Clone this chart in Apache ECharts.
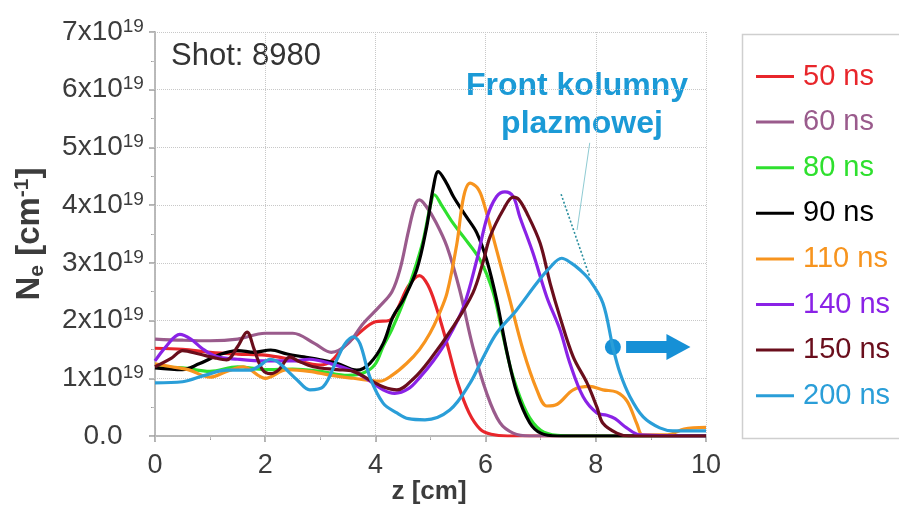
<!DOCTYPE html>
<html>
<head>
<meta charset="utf-8">
<script src="https://cdn.jsdelivr.net/npm/echarts@6/dist/echarts.min.js"></script>
<style>
html,body{margin:0;padding:0;background:#fff;}
#chart{width:899px;height:506px;}
</style>
</head>
<body>
<div id="chart"></div>
<script>
// ---- data (density in units of 1e19 cm^-1, z in cm) ----
const seriesNames = ['50 ns','60 ns','80 ns','90 ns','110 ns','140 ns','150 ns','200 ns'];

const z50 = [0,0.5,1,1.5,2,2.5,3.0,3.2,3.4,3.7,4.0,4.25,4.4,4.6,4.8,4.95,5.1,5.3,5.5,5.7,5.9,6.1,6.4,7,8,9,10];
const n50 = [1.52,1.5,1.45,1.42,1.4,1.32,1.23,1.3,1.52,1.78,1.98,2.0,2.2,2.6,2.78,2.62,2.25,1.6,0.9,0.4,0.12,0.03,0,0,0,0,0];

const z60 = [0,0.5,1,1.5,2,2.5,2.9,3.2,3.5,3.78,4.08,4.3,4.45,4.6,4.72,4.8,4.92,5.1,5.3,5.53,5.77,6.02,6.26,6.5,6.8,8,10];
const n60 = [1.68,1.66,1.65,1.68,1.78,1.78,1.6,1.45,1.6,1.95,2.25,2.5,2.9,3.55,4.0,4.09,3.98,3.7,3.28,2.53,1.54,0.74,0.23,0.05,0,0,0];

const z80 = [0,0.5,1,1.5,2,2.5,3,3.5,3.8,4.0,4.14,4.3,4.5,4.7,4.87,5.0,5.07,5.2,5.4,5.6,5.9,6.14,6.32,6.5,6.75,7.0,7.3,7.6,10];
const n80 = [1.2,1.18,1.12,1.2,1.15,1.16,1.12,1.05,1.1,1.25,1.55,1.85,2.3,2.85,3.4,4.0,4.18,4.0,3.7,3.45,3.05,2.48,1.72,1.02,0.4,0.1,0.01,0,0];

const z90 = [0,0.5,0.8,1.2,1.5,1.8,2.1,2.4,2.7,3.0,3.3,3.66,3.9,4.14,4.32,4.5,4.75,4.93,5.05,5.14,5.28,5.42,5.65,5.84,6.02,6.2,6.39,6.57,6.8,7.0,7.3,10];
const n90 = [1.18,1.15,1.25,1.42,1.48,1.45,1.49,1.42,1.37,1.32,1.26,1.14,1.26,1.6,2.07,2.35,2.88,3.62,4.3,4.58,4.4,4.14,3.8,3.52,3.05,2.36,1.44,0.74,0.23,0.05,0,0];

const z110 = [0,0.3,0.6,1.0,1.3,1.6,2.0,2.4,2.8,3.2,3.6,4.08,4.3,4.57,4.8,4.99,5.15,5.3,5.48,5.6,5.72,5.85,5.95,6.2,6.44,6.68,6.93,7.11,7.3,7.59,7.89,8.13,8.38,8.57,8.75,8.85,9.3,9.6,10];
const n110 = [1.25,1.2,1.15,1.02,1.12,1.2,1.0,1.15,1.12,1.05,1.0,0.95,1.05,1.26,1.5,1.78,2.1,2.48,3.34,4.14,4.38,4.3,4.09,3.22,2.36,1.49,0.8,0.52,0.55,0.8,0.86,0.8,0.76,0.6,0.2,0.02,0.02,0.12,0.15];

const z140 = [0,0.2,0.45,0.65,0.85,1.1,1.5,2,2.5,2.8,3.2,3.67,4.14,4.35,4.6,4.81,5.05,5.3,5.6,5.84,6.03,6.2,6.35,6.5,6.62,6.86,7.11,7.35,7.53,7.77,8.02,8.2,8.35,8.56,8.8,10];
const n140 = [1.3,1.55,1.76,1.68,1.52,1.38,1.33,1.3,1.3,1.33,1.25,1.09,0.8,0.74,0.82,1.02,1.3,1.66,2.24,3.05,3.8,4.15,4.23,4.15,3.8,3.17,2.41,1.84,1.26,0.68,0.4,0.36,0.3,0.14,0.02,0];

const z150 = [0,0.3,0.5,0.8,1.1,1.3,1.5,1.67,1.8,1.95,2.1,2.25,2.45,2.6,2.87,3.3,3.6,3.9,4.15,4.39,4.7,4.99,5.41,5.77,5.95,6.08,6.32,6.5,6.6,6.75,6.99,7.17,7.35,7.59,7.84,8.02,8.13,8.38,8.6,10];
const n150 = [1.2,1.35,1.48,1.42,1.35,1.32,1.55,1.8,1.5,1.15,1.08,1.15,1.37,1.3,1.2,1.15,1.12,0.97,0.85,0.8,1.0,1.32,1.89,2.48,3.0,3.45,3.92,4.14,4.1,3.86,3.34,2.65,2.06,1.37,0.92,0.5,0.22,0.05,0,0];

const z200 = [0,0.5,0.9,1.3,1.72,1.9,2.09,2.2,2.33,2.58,2.81,3.05,3.3,3.45,3.6,3.72,3.9,4.14,4.39,4.6,4.9,5.35,5.72,5.96,6.2,6.56,6.93,7.15,7.38,7.55,7.71,7.89,8.13,8.31,8.44,8.62,8.86,9.16,9.4,10];
const n200 = [0.92,0.94,1.05,1.14,1.14,1.22,1.33,1.3,1.2,0.97,0.8,0.85,1.32,1.6,1.72,1.6,1.02,0.57,0.4,0.3,0.28,0.45,0.92,1.37,1.78,2.18,2.65,2.9,3.08,3.0,2.88,2.7,2.3,1.54,1.09,0.68,0.33,0.14,0.09,0.09];

const zArrays = [z50,z60,z80,z90,z110,z140,z150,z200];
const nArrays = [n50,n60,n80,n90,n110,n140,n150,n200];

const xTicks = [0,2,4,6,8,10];
const yTicks = [0,1,2,3,4,5,6,7];

// annotation anchors (data coordinates)
const frontPoint = [8.31, 1.54];
const arrowStart = [8.55, 1.54];
const arrowEnd = [9.5, 1.54];
const dottedStart = [7.37, 4.19];
const dottedEnd = [7.89, 2.76];
const leaderStart = [7.89, 5.08];
const leaderEnd = [7.66, 3.57];

// ---- styles ----
const colors = ['#e8262b','#9a5b8c','#2ee02e','#000000','#f7941e','#8a22e6','#6a0e1c','#2a9ed8'];
const FONT = '"Liberation Sans", Arial, sans-serif';
const axisGray = '#9a9a9a';
const textGray = '#3c3c3c';

const series = seriesNames.map((name, i) => {
  const s = {
    name: name,
    type: 'line',
    data: zArrays[i].map((z, k) => [z, nArrays[i][k]]),
    smooth: 0.35,
    showSymbol: false,
    symbol: 'none',
    lineStyle: {width: 3.2, color: colors[i]},
    itemStyle: {color: colors[i]},
    animation: false,
    z: 2 + i
  };
  if (i === 7) {
    s.markPoint = {
      silent: true, animation: false,
      symbol: 'circle', symbolSize: 16,
      itemStyle: {color: '#1690d6'},
      label: {show: false},
      data: [{coord: frontPoint}]
    };
    s.markLine = {
      silent: true, animation: false,
      symbol: 'none',
      label: {show: false},
      data: [
        [{coord: dottedStart, lineStyle: {type: [2,2], width: 1.6, color: '#2b8f9e'}}, {coord: dottedEnd}],
        [{coord: leaderStart, lineStyle: {type: 'solid', width: 1, color: '#8fcbd3'}}, {coord: leaderEnd}],
        [{coord: arrowStart, lineStyle: {type: 'solid', width: 12, color: '#1690d6'}},
         {coord: arrowEnd, symbol: 'triangle', symbolSize: [26, 24]}]
      ]
    };
  }
  return s;
});

const chart = echarts.init(document.getElementById('chart'), null, {renderer: 'canvas'});
chart.setOption({
  backgroundColor: '#ffffff',
  animation: false,
  textStyle: {fontFamily: FONT},
  grid: {left: 155, right: 193, top: 32, bottom: 70, containLabel: false, outerBoundsMode: 'none'},
  legend: {
    orient: 'vertical',
    left: 751, top: 57,
    itemWidth: 38, itemHeight: 3,
    itemGap: 16.6,
    icon: 'rect',
    selectedMode: false,
    textStyle: {fontSize: 29, lineHeight: 28, fontFamily: FONT, padding: [0,0,0,4]},
    data: seriesNames.map((n, i) => ({name: n, textStyle: {color: colors[i]}}))
  },
  xAxis: [{
    type: 'value', min: 0, max: 10, interval: 2,
    axisLine: {show: true, lineStyle: {color: axisGray, width: 1.5}},
    axisTick: {show: true, length: 6, lineStyle: {color: axisGray, width: 1.5}},
    minorTick: {show: true, splitNumber: 2, length: 4, lineStyle: {color: axisGray}},
    axisLabel: {fontSize: 27, color: textGray, margin: 16,
      formatter: v => xTicks.includes(v) ? String(v) : ''},
    splitLine: {show: true, lineStyle: {type: 'dotted', color: '#c8c8c8', width: 1}}
  }, {
    type: 'value', min: 0, max: 10, interval: 2, position: 'top',
    axisLine: {show: true, lineStyle: {color: '#bdbdbd', width: 1.5}},
    axisTick: {show: true, inside: true, length: 5, lineStyle: {color: '#bdbdbd'}},
    minorTick: {show: true, splitNumber: 2, length: 3, lineStyle: {color: '#bdbdbd'}},
    axisLabel: {show: false},
    splitLine: {show: false}
  }],
  yAxis: [{
    type: 'value', min: 0, max: 7, interval: 1,
    name: '{b|N}{e|e}{b| [cm}{p|-1}{b|]}',
    nameLocation: 'middle', nameGap: 107, nameRotate: 90,
    nameTextStyle: {
      color: textGray, fontFamily: FONT,
      rich: {
        b: {fontSize: 33, fontWeight: 'bold', color: textGray, fontFamily: FONT, lineHeight: 36},
        e: {fontSize: 21, fontWeight: 'bold', color: textGray, fontFamily: FONT, verticalAlign: 'bottom', lineHeight: 36},
        p: {fontSize: 21, fontWeight: 'bold', color: textGray, fontFamily: FONT, verticalAlign: 'top', lineHeight: 22}
      }
    },
    axisLine: {show: true, lineStyle: {color: axisGray, width: 1.5}},
    axisTick: {show: true, length: 6, lineStyle: {color: axisGray, width: 1.5}},
    minorTick: {show: true, splitNumber: 2, length: 4, lineStyle: {color: axisGray}},
    axisLabel: {
      margin: 52, align: 'center',
      formatter: v => v === 0 ? '{b|0.0}' : '{b|' + v + 'x10}{s|19}',
      rich: {
        b: {fontSize: 28, color: textGray, fontFamily: FONT, lineHeight: 30},
        s: {fontSize: 19, color: textGray, fontFamily: FONT, verticalAlign: 'top', lineHeight: 19}
      }
    },
    splitLine: {show: true, lineStyle: {type: 'dotted', color: '#c8c8c8', width: 1}}
  }, {
    type: 'value', min: 0, max: 7, interval: 1, position: 'right',
    axisLine: {show: true, lineStyle: {color: '#bdbdbd', width: 1.5}},
    axisTick: {show: true, inside: true, length: 5, lineStyle: {color: '#bdbdbd'}},
    minorTick: {show: true, splitNumber: 2, length: 3, lineStyle: {color: '#bdbdbd'}},
    axisLabel: {show: false},
    splitLine: {show: false}
  }],
  graphic: [
    {type: 'rect', left: 740, top: 32, silent: true,
     shape: {width: 200, height: 404},
     style: {fill: 'none', stroke: '#cfcfcf', lineWidth: 1.5}},
    {type: 'text', left: 171, top: 41, silent: true,
     style: {text: 'Shot: 8980', font: '31px ' + FONT, fill: '#333333'}},
    {type: 'text', x: 429, y: 492, silent: true,
     style: {text: 'z [cm]', font: 'bold 26px ' + FONT, fill: textGray, align: 'center', verticalAlign: 'middle'}},
    {type: 'text', x: 577, y: 86, silent: true,
     style: {text: 'Front kolumny', font: 'bold 32px ' + FONT, fill: '#1b9ad6', align: 'center', verticalAlign: 'middle'}},
    {type: 'text', x: 582, y: 124, silent: true,
     style: {text: 'plazmowej', font: 'bold 32px ' + FONT, fill: '#1b9ad6', align: 'center', verticalAlign: 'middle'}}
  ],
  series: series
});
</script>
</body>
</html>
